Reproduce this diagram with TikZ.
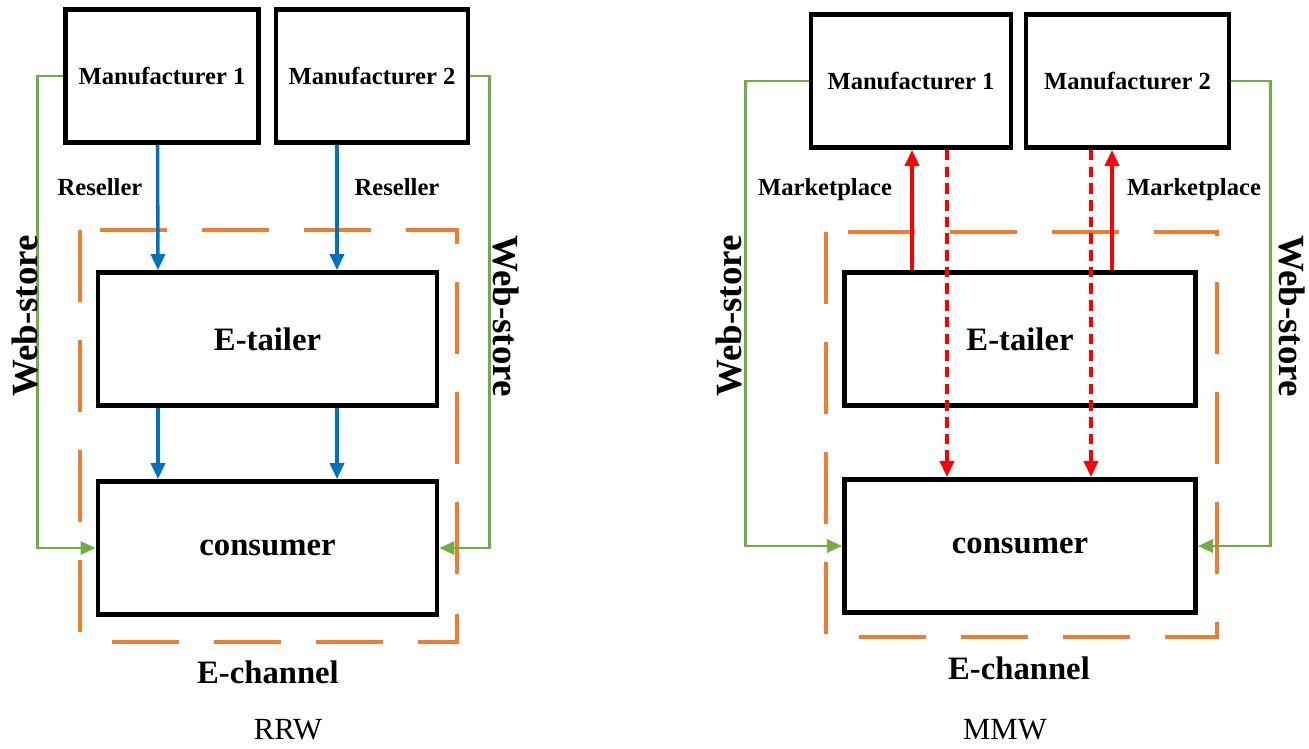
\documentclass[tikz,border=0pt]{standalone}
\usepackage{fontspec}
\setmainfont{Liberation Serif}
\usetikzlibrary{arrows.meta,calc}

\definecolor{resellblue}{RGB}{0,112,192}
\definecolor{storegreen}{RGB}{112,173,71}
\definecolor{chanorange}{RGB}{237,125,49}
\definecolor{marketred}{RGB}{255,0,0}

\tikzset{
  >={Triangle[length=3.2mm,width=2.8mm]},
  firm/.style={draw, line width=2.7pt, inner sep=0pt, minimum height=26.6mm,
    font=\bfseries\fontsize{14}{16}\selectfont},
  party/.style={draw, line width=2.7pt, inner sep=0pt, minimum height=26.6mm,
    font=\bfseries\fontsize{18.6}{22}\selectfont},
  chan/.style={chanorange, line width=2.4pt},
  hdash/.style={dash pattern=on 13.4mm off 7mm},
  vdash/.style={dash pattern=on 14.4mm off 7.6mm},
  resell/.style={resellblue, line width=2pt, ->},
  market/.style={marketred, line width=2pt, ->},
  marketback/.style={marketred, line width=2pt, ->, dash pattern=on 6pt off 3.5pt},
  webstore/.style={storegreen, line width=1.6pt, -{Triangle[length=3mm,width=2.6mm]}},
  lbl/.style={font=\bfseries\fontsize{14}{16}\selectfont},
  sidelbl/.style={font=\bfseries\fontsize{21}{24}\selectfont},
  chanlbl/.style={font=\bfseries\fontsize{18.6}{22}\selectfont},
  caption/.style={font=\fontsize{17.5}{20}\selectfont}
}

\begin{document}
\begin{tikzpicture}[x=0.2mm,y=-0.2mm]
\useasboundingbox (0,0) rectangle (1309,748);

% RRW
\node[firm, minimum width=38.6mm] (lm1) at (162,76) {Manufacturer 1};
\node[firm, minimum width=38.4mm] (lm2) at (372,76) {Manufacturer 2};
\node[party, minimum width=67.8mm] (let) at (267.5,339) {E-tailer};
\node[party, minimum width=67.8mm] (lcon) at (267.5,548) {consumer};

\draw[chan, hdash] (100,230) -- (457,230) -- (457,244);
\draw[chan, vdash] (457,282) -- (457,580);
\draw[chan, hdash] (112,642) -- (457,642) -- (457,612);
\draw[chan, vdash] (80,230) -- (80,640);

\draw[resell] ($(lm1.south)+(-4.5,0)$) -- ($(let.north)+(-109.5,0)$);
\draw[resell] ($(lm2.south)+(-35,0)$) -- ($(let.north)+(69.5,0)$);
\draw[resell] ($(let.south)+(-109.5,0)$) -- ($(lcon.north)+(-109.5,0)$);
\draw[resell] ($(let.south)+(69.5,0)$) -- ($(lcon.north)+(69.5,0)$);

\draw[webstore] (lm1.west) -- ++(-26,0) |- (lcon.west);
\draw[webstore] (lm2.east) -- ++(19,0) |- (lcon.east);

\node[lbl] (lrs1) at (100,187) {Reseller};
\node[lbl] (lrs2) at (397,187) {Reseller};
\node[sidelbl, rotate=90] (lws1) at (25,316) {Web-store};
\node[sidelbl, rotate=-90] (lws2) at (506,316) {Web-store};
\node[chanlbl] (lch) at (268,672) {E-channel};
\node[caption] (lcap) at (288,730) {RRW};

% MMW
\node[firm, minimum width=40mm] (rm1) at (911,81) {Manufacturer 1};
\node[firm, minimum width=40.6mm] (rm2) at (1127.5,81) {Manufacturer 2};
\node[party, minimum width=70.2mm] (ret) at (1020,339) {E-tailer};
\node[party, minimum width=70.2mm] (rcon) at (1020,546) {consumer};

\draw[chan, hdash] (848,232) -- (1217,232) -- (1217,246);
\draw[chan, vdash] (1217,282) -- (1217,580);
\draw[chan, hdash] (859,637) -- (1217,637) -- (1217,608);
\draw[chan, vdash] (826,232) -- (826,640);

\draw[market] ($(ret.north)+(-108,0)$) -- ($(rm1.south)+(1,0)$);
\draw[marketback] ($(rm1.south)+(36,0)$) -- ($(rcon.north)+(-73,0)$);
\draw[marketback] ($(rm2.south)+(-36.5,0)$) -- ($(rcon.north)+(71,0)$);
\draw[market] ($(ret.north)+(92,0)$) -- ($(rm2.south)+(-15.5,0)$);

\draw[webstore] (rm1.west) -- ++(-63,0) |- (rcon.west);
\draw[webstore] (rm2.east) -- ++(39,0) |- (rcon.east);

\node[lbl] (rmp1) at (825,190) {Marketplace};
\node[lbl] (rmp2) at (1194,190) {Marketplace};
\node[sidelbl, rotate=90] (rws1) at (729,316) {Web-store};
\node[sidelbl, rotate=-90] (rws2) at (1292,316) {Web-store};
\node[chanlbl] (rch) at (1019,668) {E-channel};
\node[caption] (rcap) at (1005,730) {MMW};
\end{tikzpicture}
\end{document}
